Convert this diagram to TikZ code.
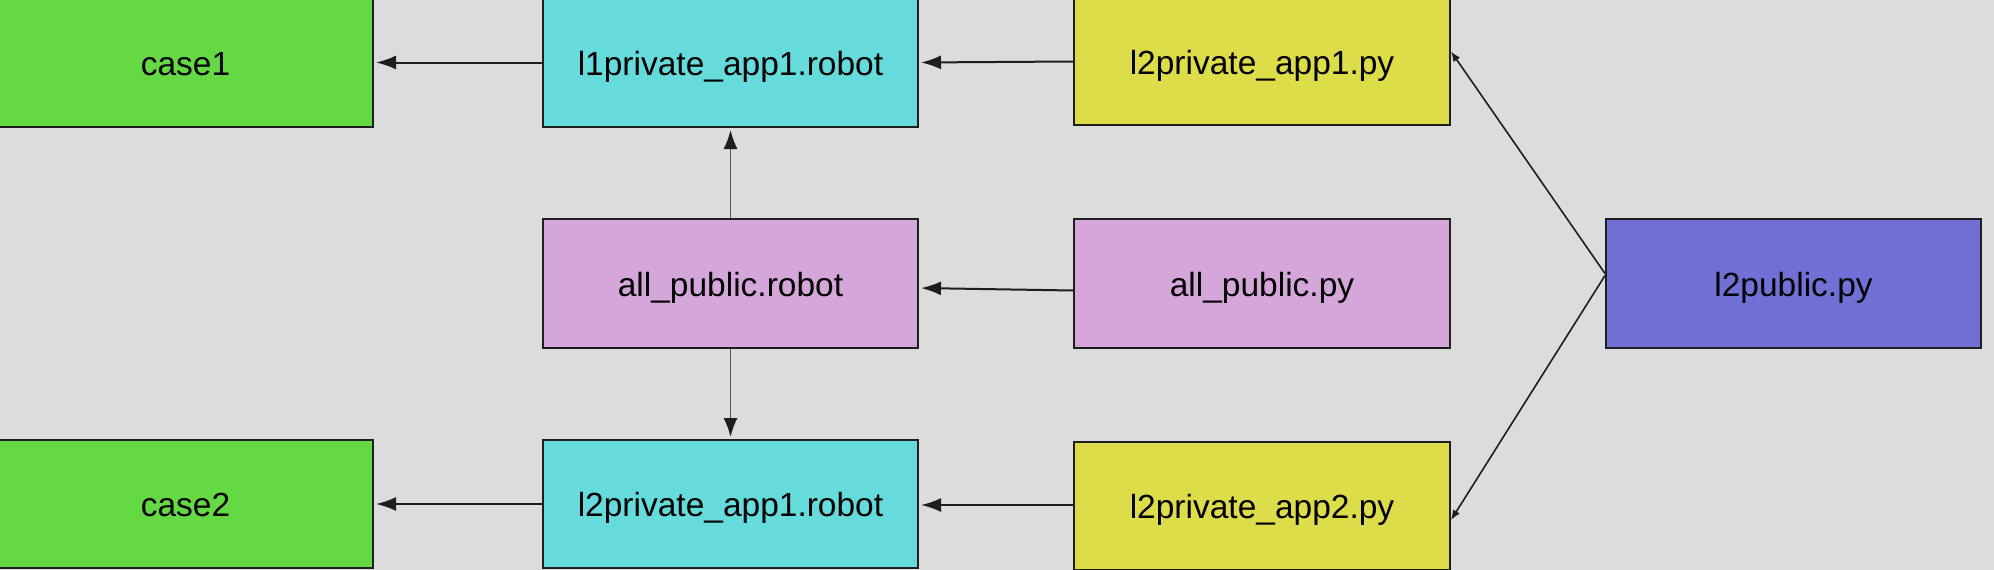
\documentclass[tikz,border=0pt]{standalone}
\usepackage{fontspec}
\setmainfont{Liberation Sans}
\usetikzlibrary{arrows.meta}
\definecolor{bgc}{HTML}{DCDCDC}
\definecolor{cgreen}{HTML}{64D944}
\definecolor{ccyan}{HTML}{66DBDB}
\definecolor{cyellow}{HTML}{DDDD4A}
\definecolor{cpink}{HTML}{D4A6DA}
\definecolor{cblue}{HTML}{7070D5}
\definecolor{edge}{HTML}{1E1E1E}
\begin{document}
\begin{tikzpicture}[x=1pt,y=-1pt,
  box/.style={draw=edge,line width=2pt,rectangle,inner sep=0pt,minimum width=375pt,minimum height=128pt,
    text height=25pt,text depth=0pt,
    font=\fontsize{33.5}{40}\selectfont,text=black},
  bigarrow/.style={draw=edge,line width=2pt,-{Latex[length=20pt,width=14pt]},shorten >=2pt},
  vertarrow/.style={draw=edge!75,line width=1.8pt,-{Latex[length=19pt,width=14pt,color=edge,fill=edge]},shorten >=2pt},
  diagarrow/.style={draw=edge,line width=1.6pt,-{Latex[length=10pt,width=8pt]}}]
\useasboundingbox (0,0) rectangle (1994,570);
\fill[bgc] (0,0) rectangle (1994,570);
% top row
\node[box,fill=cgreen,minimum height=129pt] (case1) at (185.5,62.5) {case1};
\node[box,fill=ccyan,minimum height=129pt] (l1p) at (730.5,62.5) {l1private\_app1.robot};
\node[box,fill=cyellow,minimum width=376pt,minimum height=127pt] (l2p1py) at (1262,61.5) {l2private\_app1.py};
% middle row
\node[box,fill=cpink,minimum height=129pt] (apr) at (730.5,283.5) {all\_public.robot};
\node[box,fill=cpink,minimum width=376pt,minimum height=129pt] (appy) at (1262,283.5) {all\_public.py};
\node[box,fill=cblue,minimum height=129pt] (l2pub) at (1793.5,283.5) {l2public.py};
% bottom row
\node[box,fill=cgreen] (case2) at (185.5,504) {case2};
\node[box,fill=ccyan] (l2p1r) at (730.5,504) {l2private\_app1.robot};
\node[box,fill=cyellow,minimum width=376pt] (l2p2py) at (1262,506) {l2private\_app2.py};
% connectors
\draw[bigarrow] (l1p.west) -- (case1.east);
\draw[bigarrow] (l2p1py.west) -- (l1p.east);
\draw[bigarrow] ([yshift=-7pt]appy.west) -- ([yshift=-4.5pt]apr.east);
\draw[bigarrow] ([yshift=1pt]l2p2py.west) -- ([yshift=-1pt]l2p1r.east);
\draw[bigarrow] (l2p1r.west) -- (case2.east);
\draw[vertarrow] (apr.north) -- (l1p.south);
\draw[vertarrow] (apr.south) -- (l2p1r.north);
\draw[diagarrow] ([yshift=10pt]l2pub.west) -- ([yshift=10pt]l2p1py.east);
\draw[diagarrow] ([yshift=8pt]l2pub.west) -- ([yshift=-14pt]l2p2py.east);
\end{tikzpicture}
\end{document}
